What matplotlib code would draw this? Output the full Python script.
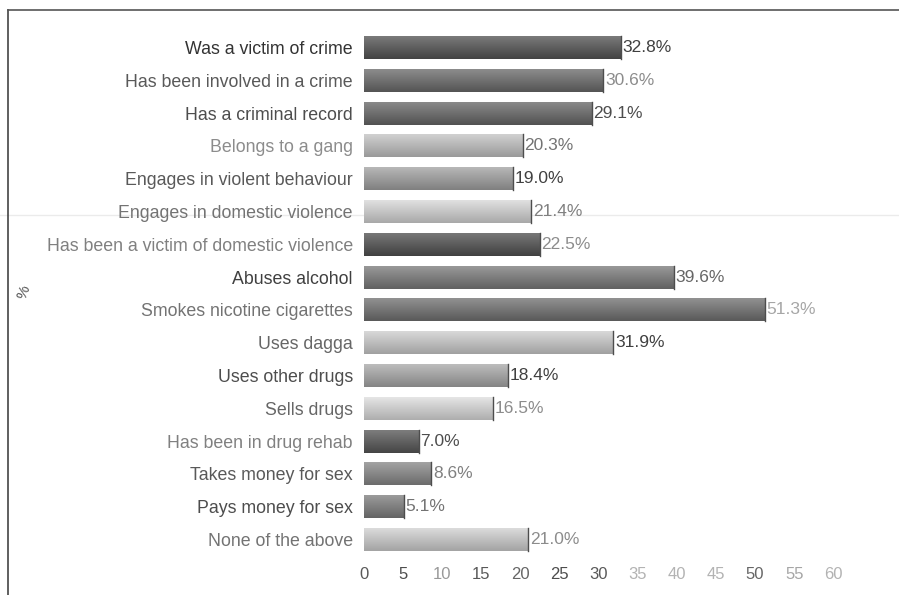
import numpy as np
import matplotlib
matplotlib.use('Agg')
import matplotlib.pyplot as plt
from matplotlib.lines import Line2D

categories = [
    'Was a victim of crime',
    'Has been involved in a crime',
    'Has a criminal record',
    'Belongs to a gang',
    'Engages in violent behaviour',
    'Engages in domestic violence',
    'Has been a victim of domestic violence',
    'Abuses alcohol',
    'Smokes nicotine cigarettes',
    'Uses dagga',
    'Uses other drugs',
    'Sells drugs',
    'Has been in drug rehab',
    'Takes money for sex',
    'Pays money for sex',
    'None of the above',
]
values = [32.8, 30.6, 29.1, 20.3, 19.0, 21.4, 22.5, 39.6, 51.3, 31.9, 18.4, 16.5, 7.0, 8.6, 5.1, 21.0]
xticks = list(range(0, 61, 5))

# grey level of each bar (scanned print, so shades differ row to row)
bar_grey = [0.36, 0.43, 0.42, 0.70, 0.60, 0.76, 0.35, 0.48, 0.45, 0.73, 0.62, 0.78, 0.37, 0.52, 0.49, 0.74]
label_grey = [0.25, 0.55, 0.3, 0.45, 0.25, 0.5, 0.55, 0.4, 0.65, 0.25, 0.25, 0.55, 0.3, 0.5, 0.45, 0.55]
cat_grey = [0.2, 0.35, 0.3, 0.55, 0.35, 0.45, 0.5, 0.25, 0.45, 0.4, 0.3, 0.4, 0.5, 0.35, 0.3, 0.45]
tick_grey = [0.35, 0.3, 0.6, 0.35, 0.4, 0.3, 0.35, 0.7, 0.7, 0.7, 0.4, 0.65, 0.7]

plt.rcParams['font.family'] = ['Liberation Sans', 'DejaVu Sans']

fig = plt.figure(figsize=(8.99, 5.95), dpi=100)
ax = fig.add_axes([364 / 899, 1 - 556 / 595, (845 - 364) / 899, (556 - 31) / 595])
ax.patch.set_alpha(0)

n = len(categories)
ypos = np.arange(n)
h = 0.7
grad = np.linspace(0, 1, 64).reshape(-1, 1)
for i, (v, g) in enumerate(zip(values, bar_grey)):
    bar = ax.barh(i, v, height=h, color=(g, g, g), edgecolor='none')[0]
    # vertical shading: lighter at the top edge, darker at the bottom
    shade = np.clip(g + 0.12 - 0.22 * grad, 0, 1)
    img = ax.imshow(np.dstack([shade, shade, shade]), extent=(0, v, i + h / 2, i - h / 2),
                    aspect='auto', interpolation='bicubic', zorder=2)
    img.set_clip_path(bar)
    ax.plot([v, v], [i - h / 2, i + h / 2], color=(0.3, 0.3, 0.3), lw=1, zorder=3)
    lg = label_grey[i]
    ax.text(v + 0.2, i, f'{v:.1f}%', va='center', ha='left', fontsize=12.5,
            color=(lg, lg, lg))

ax.set_xlim(0, 61.5)
ax.set_ylim(n - 0.5, -0.5)
ax.set_yticks(ypos)
ax.set_yticklabels(categories, fontsize=12.8)
for t, cg in zip(ax.get_yticklabels(), cat_grey):
    t.set_color((cg, cg, cg))
ax.set_xticks(xticks)
ax.set_xticklabels([str(x) for x in xticks], fontsize=12)
for t, tg in zip(ax.get_xticklabels(), tick_grey):
    t.set_color((tg, tg, tg))
ax.tick_params(axis='both', length=0)
ax.tick_params(axis='y', pad=8)
ax.tick_params(axis='x', pad=8)
for s in ax.spines.values():
    s.set_visible(False)

fig.text(24 / 899, 1 - 292 / 595, '%', rotation=70, ha='center', va='center',
         fontsize=11, color='#555555')

# page frame and scan line
fig.add_artist(Line2D([8 / 899, 8 / 899], [0, 1 - 10 / 595], transform=fig.transFigure,
                      color='#444444', lw=1.2))
fig.add_artist(Line2D([8 / 899, 1], [1 - 10 / 595, 1 - 10 / 595], transform=fig.transFigure,
                      color='#555555', lw=1.2))
fig.add_artist(Line2D([0, 1], [1 - 215 / 595, 1 - 215 / 595], transform=fig.transFigure,
                      color='#ebebeb', lw=1, zorder=-1))

fig.savefig('out.png', dpi=100)
